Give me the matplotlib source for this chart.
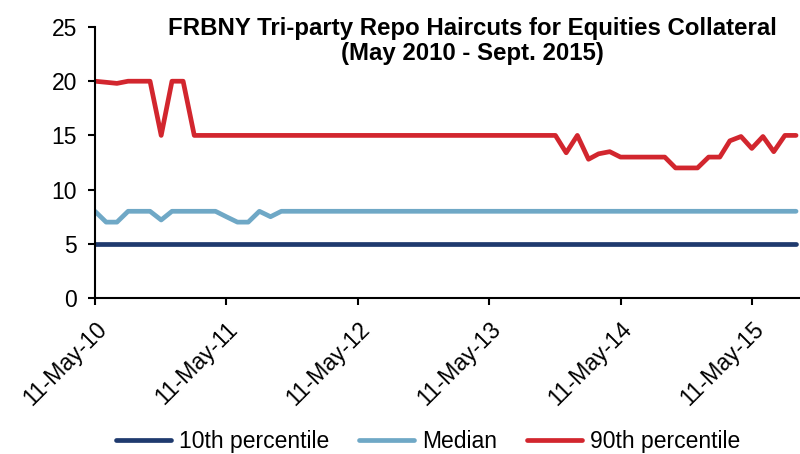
import numpy as np
import pandas as pd
from matplotlib import pyplot as plt

plt.rcParams['font.family'] = ['Liberation Sans', 'DejaVu Sans']

# monthly observations, May 2010 - Sept 2015
p10 = [5] * 65

median = [8, 7, 7, 8, 8, 8, 7.2, 8, 8, 8, 8, 8, 7.5, 7, 7, 8, 7.5, 8] + [8] * 47

p90 = [20, 19.9, 19.8, 20, 20, 20, 15, 20, 20, 15] + [15] * 33 + \
      [13.4, 15, 12.8, 13.3, 13.5, 13, 13, 13, 13, 13, 12, 12, 12,
       13, 13, 14.5, 14.9, 13.8, 14.9, 13.5, 15, 15]

dates = pd.date_range('2010-05-11', periods=len(p90), freq=pd.DateOffset(months=1))
tick_dates = pd.date_range('2010-05-11', periods=6, freq=pd.DateOffset(years=1))
tick_labels = ['11-May-10', '11-May-11', '11-May-12', '11-May-13', '11-May-14', '11-May-15']

fig = plt.figure(figsize=(8, 4.54), dpi=100)
ax = fig.add_axes([0.11875, 0.3436, 0.88125, 0.5969])

ax.plot(dates, p10, color='#1f3a6e', lw=3.4, label='10th percentile', solid_capstyle='round')
ax.plot(dates, median, color='#6fa8c6', lw=3.4, label='Median', solid_capstyle='round')
ax.plot(dates, p90, color='#d2262e', lw=3.4, label='90th percentile', solid_capstyle='round')

ax.set_ylim(0, 25)
ax.set_yticks([0, 5, 10, 15, 20, 25])
ax.set_xlim(dates[0], pd.Timestamp('2015-09-22'))
ax.set_xticks(tick_dates)
ax.set_xticklabels(tick_labels, rotation=45, ha='right', va='top', rotation_mode='anchor')
ax.tick_params(labelsize=16.5, direction='out', length=5, width=1.5, colors='black')
ax.tick_params(axis='y', pad=8)
ax.tick_params(axis='x', pad=9)
for s in ['top', 'right']:
    ax.spines[s].set_visible(False)
for s in ['left', 'bottom']:
    ax.spines[s].set_linewidth(1.5)

ax.text(0.535, 0.948, 'FRBNY Tri-party Repo Haircuts for Equities Collateral\n(May 2010 - Sept. 2015)',
        transform=ax.transAxes, ha='center', va='center', fontsize=17.3, fontweight='bold',
        linespacing=1.12)

fig.legend(loc='center', bbox_to_anchor=(0.535, 0.027), ncol=3, frameon=False, fontsize=16.5,
           handlelength=2.4, handletextpad=0.35, columnspacing=1.3)

fig.savefig('out.png', dpi=100)
